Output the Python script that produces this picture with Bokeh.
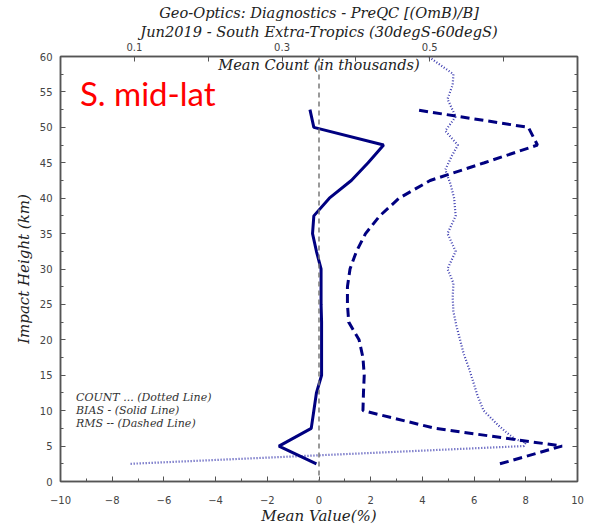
from bokeh.plotting import figure
from bokeh.models import Range1d, LinearAxis, FixedTicker, SingleIntervalTicker, Label, Title, Span
from bokeh.embed import file_html
from bokeh.resources import INLINE

# ---- data ----
bias_height = [2.5, 5, 7.5, 10, 12.5, 15, 17.5, 20, 22.5, 25, 27.5, 30, 32.5, 35, 37.5, 40, 42.5, 45, 47.5, 50, 52.5]
bias_value = [-0.1, -1.55, -0.3, -0.2, -0.1, 0.1, 0.1, 0.1, 0.1, 0.08, 0.08, 0.08, -0.1, -0.25, -0.2, 0.4, 1.25, 1.9, 2.5, -0.2, -0.35]

rms_height = [2.5, 5, 7.5, 10, 12.5, 15, 17.5, 20, 22.5, 25, 27.5, 30, 32.5, 35, 37.5, 40, 42.5, 45, 47.5, 50, 52.5]
rms_value = [7.0, 9.4, 4.5, 1.7, 1.72, 1.75, 1.7, 1.55, 1.15, 1.1, 1.1, 1.2, 1.45, 1.8, 2.35, 3.1, 4.3, 6.4, 8.45, 8.1, 3.7]

count_height = [2.5, 5, 5.5, 6, 7, 8, 10, 12, 14, 16, 18, 20, 22, 24, 26, 28, 30, 32.5, 35, 37.5, 40, 42, 44, 46, 47.5, 49.5, 51.5, 54, 56, 57.5, 60]
count_value = [0.095, 0.627, 0.630, 0.615, 0.603, 0.592, 0.573, 0.565, 0.559, 0.553, 0.546, 0.541, 0.536, 0.532, 0.531,
               0.532, 0.524, 0.535, 0.524, 0.535, 0.533, 0.528, 0.521, 0.530, 0.538, 0.521, 0.535, 0.524, 0.531, 0.532, 0.498]

x_major = [-10, -8, -6, -4, -2, 0, 2, 4, 6, 8, 10]
count_labeled_ticks = [0.1, 0.3, 0.5]
count_unlabeled_ticks = [0.2, 0.4, 0.6]

title1 = "Geo-Optics: Diagnostics - PreQC [(OmB)/B]"
title2 = "Jun2019 - South Extra-Tropics (30degS-60degS)"

NAVY = "#000080"
SPINE = "#555555"
TICKTXT = "#444444"
SERIF = "DejaVu Serif"

p = figure(width=596, height=527, output_backend="svg", toolbar_location=None,
           x_range=Range1d(-10, 10), y_range=Range1d(0, 60),
           min_border_left=60, min_border_right=19, min_border_top=56, min_border_bottom=43)
p.extra_x_ranges = {"count": Range1d(0, 0.7)}
p.grid.visible = False
p.outline_line_color = SPINE
p.outline_line_width = 1.5
p.background_fill_color = "white"
p.border_fill_color = "white"

# titles
p.title.text = title1
p.title.align = "center"
p.title.text_font = SERIF
p.title.text_font_style = "italic"
p.title.text_font_size = "14.6px"
p.title.text_color = "#222222"
p.title.standoff = 0
p.title.offset = 0

def style_axis(ax):
    ax.axis_line_color = SPINE
    ax.axis_line_width = 1.5
    ax.major_tick_line_color = SPINE
    ax.minor_tick_line_color = SPINE
    ax.major_tick_in = 5
    ax.major_tick_out = 0
    ax.minor_tick_in = 3
    ax.minor_tick_out = 0
    ax.major_label_text_font = "DejaVu Sans"
    ax.major_label_text_font_size = "10px"
    ax.major_label_text_color = TICKTXT
    ax.axis_label_text_font = SERIF
    ax.axis_label_text_font_style = "italic"
    ax.axis_label_text_font_size = "15px"
    ax.axis_label_text_color = "#222222"

xa = p.xaxis[0]
xa.ticker = SingleIntervalTicker(interval=2, num_minor_ticks=2)
xa.major_label_overrides = {v: (str(v) if v >= 0 else "\u2212" + str(-v)) for v in x_major}
xa.axis_label = "Mean Value(%)"
style_axis(xa)
xa.major_label_standoff = 14
xa.axis_label_standoff = 0

ya = p.yaxis[0]
ya.ticker = SingleIntervalTicker(interval=5, num_minor_ticks=2)
ya.axis_label = "Impact Height (km)"
style_axis(ya)
ya.major_label_standoff = 8
ya.axis_label_standoff = 4

top = LinearAxis(x_range_name="count",
                 ticker=FixedTicker(ticks=count_labeled_ticks, minor_ticks=count_unlabeled_ticks))
style_axis(top)
top.minor_tick_in = 5
top.major_label_standoff = 6
p.add_layout(top, "above")

p.add_layout(Title(text=title2, align="center", text_font=SERIF, text_font_style="italic",
                   text_font_size="14.6px", text_color="#222222", standoff=0, offset=0), "above")

right = LinearAxis(ticker=SingleIntervalTicker(interval=5, num_minor_ticks=2))
style_axis(right)
right.major_label_text_font_size = "1px"
right.major_label_text_color = None
right.major_label_standoff = 0
p.add_layout(right, "right")

# zero line
p.add_layout(Span(location=0, dimension="height", line_color="#777777", line_width=1.5, line_dash="5 4"))

# series
p.line(count_value, count_height, x_range_name="count", line_color="#2a2aa8", line_width=2.2,
       line_dash="1 2", line_alpha=0.9)
p.line(bias_value, bias_height, line_color=NAVY, line_width=3)
p.line(rms_value, rms_height, line_color=NAVY, line_width=3, line_dash="9 5")

# annotations
p.add_layout(Label(x=0, y=58.9, text="Mean Count (in thousands)", text_font=SERIF, text_font_style="italic",
                   text_font_size="14.6px", text_color="#222222", text_align="center", text_baseline="middle"))
p.add_layout(Label(x=-9.25, y=54.8, text="S. mid-lat", text_font="Lato", text_font_size="33px",
                   text_color="#ff0000", text_align="left", text_baseline="middle"))
for yy, t in [(11.8, "COUNT ... (Dotted Line)"), (10.0, "BIAS - (Solid Line)"), (8.2, "RMS -- (Dashed Line)")]:
    p.add_layout(Label(x=-9.4, y=yy, text=t, text_font=SERIF, text_font_style="italic", text_font_size="11px",
                       text_color="#333333", text_align="left", text_baseline="middle"))

open("out.html", "w").write(file_html(p, INLINE))
